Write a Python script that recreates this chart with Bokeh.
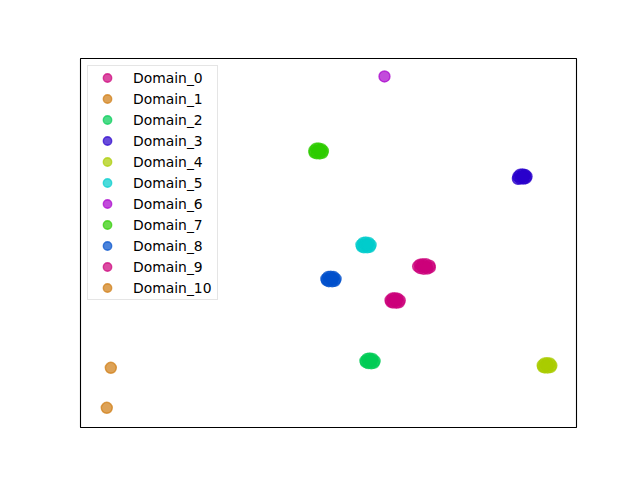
from bokeh.plotting import figure
from bokeh.models import Range1d, Legend
from bokeh.embed import file_html
from bokeh.resources import INLINE

# ---- data ----
domains = ["Domain_0", "Domain_1", "Domain_2", "Domain_3", "Domain_4", "Domain_5",
           "Domain_6", "Domain_7", "Domain_8", "Domain_9", "Domain_10"]

d0_x = [14.45, 14.75, 15.20, 15.75, 16.30, 16.35, 15.95, 15.35, 14.80, 15.40, 15.05, 15.80]
d0_y = [-5.05, -4.70, -4.60, -4.62, -4.90, -5.30, -5.55, -5.60, -5.45, -5.10, -5.00, -5.15]

d1_x = [-35.11]
d1_y = [-27.06]

d2_x = [5.95, 6.25, 6.65, 7.10, 7.45, 7.30, 6.90, 6.40, 6.05, 6.70, 6.95]
d2_y = [-25.55, -25.12, -25.05, -25.15, -25.60, -25.98, -26.08, -26.02, -25.85, -25.55, -25.40]

d3_x = [30.60, 30.90, 31.30, 31.70, 31.95, 31.80, 31.45, 30.95, 30.55, 31.30, 31.55]
d3_y = [14.40, 14.82, 14.88, 14.78, 14.42, 14.05, 13.95, 13.98, 13.90, 14.40, 14.55]

d4_x = [34.55, 34.85, 35.25, 35.70, 35.95, 35.80, 35.35, 34.85, 34.60, 35.25]
d4_y = [-26.50, -26.10, -26.04, -26.12, -26.55, -26.92, -27.02, -26.98, -26.85, -26.55]

d5_x = [5.30, 5.60, 6.00, 6.50, 6.80, 6.65, 6.25, 5.70, 5.40, 6.05, 6.30]
d5_y = [-0.40, 0.02, 0.10, 0.00, -0.42, -0.85, -0.95, -0.92, -0.78, -0.45, -0.30]

d6_x = [9.03]
d6_y = [36.10]

d7_x = [-2.30, -2.00, -1.60, -1.15, -0.90, -1.00, -1.40, -1.90, -2.25, -1.60, -1.35]
d7_y = [20.00, 20.45, 20.50, 20.35, 19.95, 19.55, 19.42, 19.45, 19.60, 19.95, 20.10]

d8_x = [-0.35, -0.05, 0.35, 0.85, 1.15, 1.00, 0.60, 0.05, -0.25, 0.40, 0.65]
d8_y = [-7.78, -7.35, -7.28, -7.38, -7.80, -8.22, -8.32, -8.28, -8.12, -7.80, -7.65]

d9_x = [10.00, 10.30, 10.70, 11.15, 11.50, 11.35, 10.95, 10.40, 10.10, 10.75, 11.00]
d9_y = [-12.40, -12.02, -11.97, -12.05, -12.45, -12.85, -12.95, -12.92, -12.75, -12.50, -12.35]

d10_x = [-35.76]
d10_y = [-35.73]

xs = [d0_x, d1_x, d2_x, d3_x, d4_x, d5_x, d6_x, d7_x, d8_x, d9_x, d10_x]
ys = [d0_y, d1_y, d2_y, d3_y, d4_y, d5_y, d6_y, d7_y, d8_y, d9_y, d10_y]

colors = ["#cc007a", "#cf7a10", "#00cc55", "#2a00cc", "#aacc00", "#00cccc",
          "#a800cc", "#2ecc00", "#0050cc", "#cc007a", "#cf7a10"]

# ---- figure ----
p = figure(width=624, height=464, output_backend="svg", toolbar_location=None,
           x_range=Range1d(-40, 40), y_range=Range1d(-40, 40),
           min_border_left=80, min_border_right=48, min_border_top=58,
           min_border_bottom=37)
p.xaxis.visible = False
p.yaxis.visible = False
p.xgrid.visible = False
p.ygrid.visible = False
p.outline_line_color = "black"
p.outline_line_width = 1.1
p.background_fill_color = "white"
p.border_fill_color = "white"

items = []
for name, x, y, c in zip(domains, xs, ys, colors):
    r = p.scatter(x, y, size=11, fill_color=c, line_color=c,
                  fill_alpha=0.7, line_alpha=0.7, line_width=1.4)
    items.append((name, [r]))

legend = Legend(items=items, location="top_left", margin=7, padding=1,
                glyph_width=36, glyph_height=21, spacing=0,
                label_standoff=8, label_width=83, label_height=21,
                label_text_font="DejaVu Sans", label_text_font_size="13.9px",
                label_text_color="black",
                border_line_color="#cccccc", border_line_width=1,
                background_fill_color="white", background_fill_alpha=0.8)
p.add_layout(legend, "center")

open("out.html", "w").write(file_html(p, INLINE))
